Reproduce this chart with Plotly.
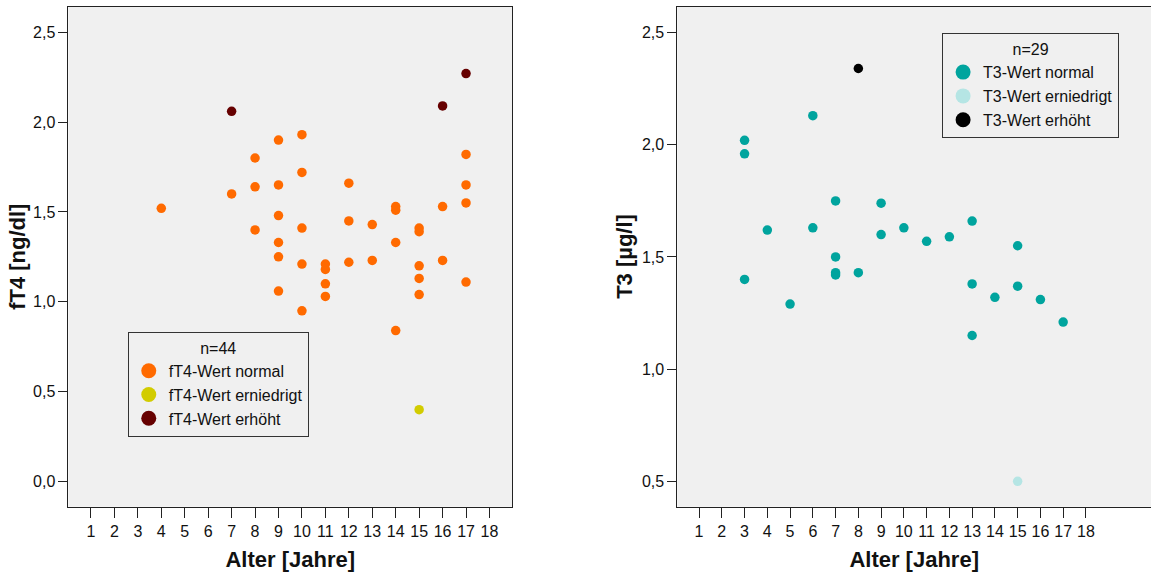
import plotly.graph_objects as go

# ---------------- data ----------------
age_ticks = list(range(1, 19))
ft4_ticks = [0.0, 0.5, 1.0, 1.5, 2.0, 2.5]
t3_ticks = [0.5, 1.0, 1.5, 2.0, 2.5]

ft4_normal_age = [4, 7, 8, 8, 8, 9, 9, 9, 9, 9, 9, 10, 10, 10, 10, 10,
                  11, 11, 11, 11, 12, 12, 12, 13, 13, 14, 14, 14, 14,
                  15, 15, 15, 15, 15, 16, 16, 17, 17, 17, 17]
ft4_normal_val = [1.52, 1.60, 1.80, 1.64, 1.40, 1.90, 1.65, 1.48, 1.33, 1.25, 1.06,
                  1.93, 1.72, 1.41, 1.21, 0.95, 1.21, 1.18, 1.10, 1.03,
                  1.66, 1.45, 1.22, 1.43, 1.23, 1.53, 1.51, 1.33, 0.84,
                  1.41, 1.39, 1.20, 1.13, 1.04, 1.53, 1.23, 1.82, 1.65, 1.55, 1.11]
ft4_low_age = [15]
ft4_low_val = [0.40]
ft4_high_age = [7, 16, 17]
ft4_high_val = [2.06, 2.09, 2.27]

t3_normal_age = [3, 3, 3, 4, 5, 6, 6, 7, 7, 7, 7, 8, 9, 9, 10, 11, 12,
                 13, 13, 13, 14, 15, 15, 16, 17]
t3_normal_val = [2.02, 1.96, 1.40, 1.62, 1.29, 2.13, 1.63, 1.75, 1.50, 1.43, 1.42,
                 1.43, 1.74, 1.60, 1.63, 1.57, 1.59, 1.66, 1.38, 1.15, 1.32,
                 1.55, 1.37, 1.31, 1.21]
t3_low_age = [15]
t3_low_val = [0.50]
t3_high_age = [8]
t3_high_val = [2.34]

ft4_names = ["fT4-Wert normal", "fT4-Wert erniedrigt", "fT4-Wert erhöht"]
t3_names = ["T3-Wert normal", "T3-Wert erniedrigt", "T3-Wert erhöht"]
ft4_colors = ["#FF6A00", "#D2CC00", "#660000"]
t3_colors = ["#00A49E", "#B5E5E4", "#000000"]

x_title = "Alter [Jahre]"
ft4_title = "fT4 [ng/dl]"
t3_title = "T3 [µg/l]"

FONT = "Arial, Liberation Sans, sans-serif"
BG = "#F0F0F0"
LINE = "#222222"
PT = 9.5

fig = go.Figure()

ft4_sets = [(ft4_normal_age, ft4_normal_val), (ft4_low_age, ft4_low_val), (ft4_high_age, ft4_high_val)]
t3_sets = [(t3_normal_age, t3_normal_val), (t3_low_age, t3_low_val), (t3_high_age, t3_high_val)]

for (xs, ys), c in zip(ft4_sets, ft4_colors):
    fig.add_trace(go.Scatter(x=xs, y=ys, mode="markers", xaxis="x", yaxis="y",
                             marker=dict(size=PT, color=c, line=dict(width=0)),
                             showlegend=False, hoverinfo="x+y"))
for (xs, ys), c in zip(t3_sets, t3_colors):
    fig.add_trace(go.Scatter(x=xs, y=ys, mode="markers", xaxis="x2", yaxis="y2",
                             marker=dict(size=PT, color=c, line=dict(width=0)),
                             showlegend=False, hoverinfo="x+y"))

# legend-only entries with larger symbols
for n, c in zip(ft4_names, ft4_colors):
    fig.add_trace(go.Scatter(x=[None], y=[None], mode="markers", xaxis="x", yaxis="y",
                             marker=dict(size=15, color=c), name=n, legend="legend"))
for n, c in zip(t3_names, t3_colors):
    fig.add_trace(go.Scatter(x=[None], y=[None], mode="markers", xaxis="x2", yaxis="y2",
                             marker=dict(size=15, color=c), name=n, legend="legend2"))

xcommon = dict(tickvals=age_ticks, ticks="outside", ticklen=10, tickwidth=1, tickcolor=LINE,
               showline=True, linecolor=LINE, linewidth=1, showgrid=False, zeroline=False,
               automargin=False,
               tickfont=dict(family=FONT, size=16, color="#111"),
               title=dict(text="<b>" + x_title + "</b>", font=dict(family=FONT, size=22, color="#111"),
                          standoff=12))
ycommon = dict(ticks="outside", ticklen=9, tickwidth=1, tickcolor=LINE, tickformat=".1f",
               showline=True, linecolor=LINE, linewidth=1, showgrid=False, zeroline=False,
               automargin=False,
               tickfont=dict(family=FONT, size=16, color="#111"))

legcommon = dict(bgcolor=BG, bordercolor="#333", borderwidth=1,
                 font=dict(family=FONT, size=16, color="#111"),
                 xanchor="left", yanchor="top", tracegroupgap=0, itemwidth=30)

YD = [0.1203, 0.9878]
ymid = (YD[0] + YD[1]) / 2

fig.update_layout(
    width=1151, height=576,
    margin=dict(l=0, r=0, t=0, b=0, autoexpand=False),
    paper_bgcolor="white", plot_bgcolor=BG,
    separators=",.",
    xaxis=dict(domain=[0.0595, 0.4448], range=[0.04, 18.96], mirror=True, anchor="y", **xcommon),
    yaxis=dict(domain=YD, range=[-0.14, 2.64], tickvals=ft4_ticks, mirror=True, anchor="x", **ycommon),
    xaxis2=dict(domain=[0.5885, 1.0], range=[0.047, 20.86], mirror=True, anchor="y2", **xcommon),
    yaxis2=dict(domain=YD, range=[0.387, 2.614], tickvals=t3_ticks, mirror=False, anchor="x2", **ycommon),
    legend=dict(x=0.111, y=0.4236, title=dict(text="n=44", side="top center",
                font=dict(family=FONT, size=16, color="#111")), **legcommon),
    legend2=dict(x=0.8185, y=0.942, title=dict(text="n=29", side="top center",
                 font=dict(family=FONT, size=16, color="#111")), **legcommon),
    annotations=[
        dict(text="<b>" + ft4_title + "</b>", xref="paper", yref="paper", x=18 / 1151, y=ymid,
             xanchor="center", yanchor="middle", textangle=-90, showarrow=False,
             font=dict(family=FONT, size=22, color="#111")),
        dict(text="<b>" + t3_title + "</b>", xref="paper", yref="paper", x=625 / 1151, y=ymid,
             xanchor="center", yanchor="middle", textangle=-90, showarrow=False,
             font=dict(family=FONT, size=22, color="#111")),
    ],
)

fig.write_html("out.html", config={"displayModeBar": False},
               post_script="document.body.style.margin='0px';")
